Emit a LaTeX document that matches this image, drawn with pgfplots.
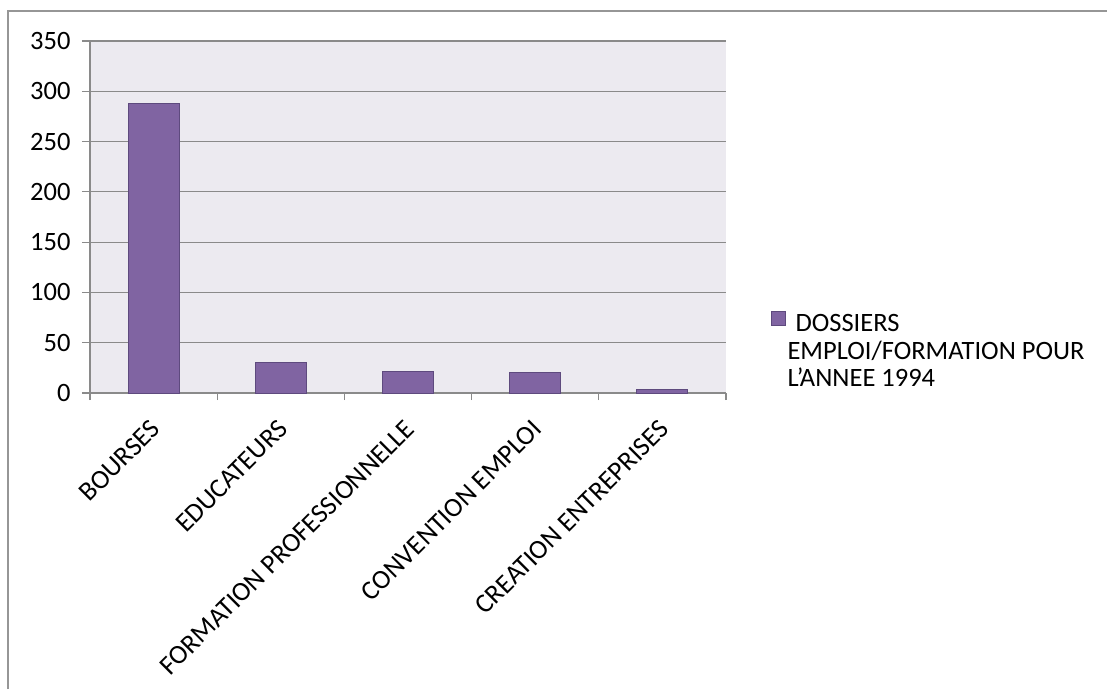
\documentclass[border=0pt]{standalone}
\usepackage{fontspec}
\setmainfont{Carlito}
\usepackage{pgfplots}
\pgfplotsset{compat=1.18}
\definecolor{barfill}{HTML}{8064A2}
\definecolor{baredge}{HTML}{5E4A7E}
\definecolor{plotbg}{HTML}{ECEAF0}
\definecolor{gridc}{HTML}{8A8A8A}
\begin{document}
\begin{tikzpicture}[x=1pt,y=1pt]
\path[use as bounding box] (0,0) rectangle (1107,689);
\draw[gridc!90, line width=1.3pt] (8,0) -- (8,678) -- (1107,678);
\begin{axis}[
  at={(90pt,296pt)}, anchor=south west,
  width=636pt, height=352pt, scale only axis,
  ymin=0, ymax=350, ytick={0,50,...,350},
  xmin=-0.5, xmax=4.5,
  xtick={0,...,4},
  xticklabels={BOURSES,EDUCATEURS,FORMATION PROFESSIONNELLE,CONVENTION EMPLOI,CREATION ENTREPRISES},
  minor xtick={-0.5,0.5,...,4.5},
  axis x line*=bottom, axis y line*=left,
  axis line style={gridc, line width=1.2pt, -},
  ymajorgrids, grid style={gridc, line width=1.2pt},
  tick align=outside, major tick length=8pt, minor tick length=7pt,
  major x tick style={draw=none},
  minor x tick style={gridc, line width=1.2pt},
  major y tick style={gridc, line width=1.2pt},
  ybar, bar width=51pt,
  axis background/.style={fill=plotbg},
  /pgf/number format/assume math mode=true,
  tick label style={font=\fontsize{26.5}{30}\selectfont, text=black},
  yticklabel style={xshift=-8pt},
  xticklabel style={rotate=45, anchor=north east, inner sep=2pt, yshift=-7pt, xshift=-13pt, font=\fontsize{27}{30}\selectfont},
  legend style={at={(1.07,0.233)}, anchor=north west, draw=none, fill=none,
    font=\fontsize{26.5}{27.5}\selectfont, cells={align=left, anchor=north west},
    inner sep=0pt, outer sep=0pt},
  legend image code/.code={\draw[fill=barfill, draw=baredge, line width=1pt] (-3pt,-13pt) rectangle (11pt,1pt);},
]
\addplot[fill=barfill, draw=baredge, line width=1pt] coordinates {(0,288) (1,30) (2,21) (3,20) (4,3)};
\addlegendentry{\hspace{8pt}DOSSIERS\\EMPLOI/FORMATION POUR\\L'ANNEE 1994}
\end{axis}
\end{tikzpicture}
\end{document}
